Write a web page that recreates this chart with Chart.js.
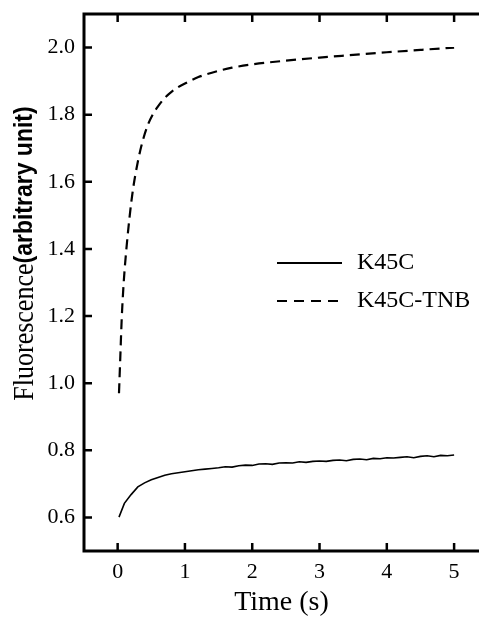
<!DOCTYPE html>
<html>
<head>
<meta charset="utf-8">
<script src="https://cdn.jsdelivr.net/npm/chart.js@4.4.1/dist/chart.umd.min.js"></script>
<style>
  html, body { margin: 0; padding: 0; background: #fff; }
  canvas { display: block; }
</style>
</head>
<body>
<canvas id="fluoChart" width="479" height="621"></canvas>
<script>
// Data
const xTicks = [0, 1, 2, 3, 4, 5];
const yTicks = [0.6, 0.8, 1.0, 1.2, 1.4, 1.6, 1.8, 2.0];

const timeK45C = [0.02, 0.1, 0.2, 0.3, 0.4, 0.5, 0.6, 0.7, 0.8, 0.9, 1.0,
    1.1, 1.2, 1.3, 1.4, 1.5, 1.6, 1.7, 1.8, 1.9, 2.0,
    2.1, 2.2, 2.3, 2.4, 2.5, 2.6, 2.7, 2.8, 2.9, 3.0,
    3.1, 3.2, 3.3, 3.4, 3.5, 3.6, 3.7, 3.8, 3.9, 4.0,
    4.1, 4.2, 4.3, 4.4, 4.5, 4.6, 4.7, 4.8, 4.9, 5.0];
const fluoK45C = [0.601, 0.642, 0.668, 0.691, 0.703, 0.712, 0.719, 0.726, 0.730, 0.733, 0.736,
    0.739, 0.742, 0.744, 0.746, 0.748, 0.751, 0.750, 0.754, 0.756, 0.755,
    0.759, 0.760, 0.758, 0.762, 0.763, 0.762, 0.766, 0.764, 0.767, 0.768,
    0.767, 0.770, 0.771, 0.769, 0.773, 0.774, 0.772, 0.776, 0.775, 0.778,
    0.777, 0.779, 0.781, 0.778, 0.782, 0.784, 0.781, 0.785, 0.784, 0.786];

const timeTNB = [0.02, 0.04, 0.06, 0.09, 0.13, 0.18, 0.23, 0.3, 0.37, 0.45, 0.52,
    0.6, 0.7, 0.8, 0.9, 1.0, 1.2, 1.4, 1.7, 2.0, 2.5, 3.0, 3.5, 4.0, 4.5, 5.0];
const fluoTNB = [0.97, 1.08, 1.19, 1.30, 1.40, 1.50, 1.58, 1.66, 1.72, 1.77, 1.80,
    1.825, 1.85, 1.868, 1.882, 1.893, 1.912, 1.925, 1.940, 1.950, 1.961, 1.970, 1.978, 1.986, 1.993, 2.0];

const seriesNames = ['K45C', 'K45C-TNB'];

const serif = '"Liberation Serif", "Times New Roman", serif';

function toPoints(xs, ys) {
    return xs.map((x, i) => ({ x: x, y: ys[i] }));
}

// Boxed axes with inward ticks, drawn from the chart's scales
const framePlugin = {
    id: 'frame',
    afterDatasetsDraw(chart) {
        const { ctx, chartArea: ca, scales } = chart;
        ctx.save();
        ctx.strokeStyle = '#000';
        ctx.lineWidth = 3;
        ctx.beginPath();
        ctx.moveTo(ca.right + 2, ca.top);
        ctx.lineTo(ca.left, ca.top);
        ctx.lineTo(ca.left, ca.bottom);
        ctx.lineTo(ca.right + 2, ca.bottom);
        ctx.stroke();

        ctx.lineWidth = 2.5;
        ctx.beginPath();
        xTicks.forEach(v => {
            const px = scales.x.getPixelForValue(v);
            ctx.moveTo(px, ca.bottom);
            ctx.lineTo(px, ca.bottom - 8);
            ctx.moveTo(px, ca.top);
            ctx.lineTo(px, ca.top + 8);
        });
        yTicks.forEach(v => {
            const py = scales.y.getPixelForValue(v);
            ctx.moveTo(ca.left, py);
            ctx.lineTo(ca.left + 8, py);
        });
        ctx.stroke();
        ctx.restore();
    }
};

// Y title: serif word plus a bold sans part
const yTitlePlugin = {
    id: 'yTitle',
    afterDraw(chart) {
        const { ctx, chartArea: ca } = chart;
        const partA = 'Fluorescence';
        const partB = '(arbitrary unit)';
        const fontA = '26px ' + serif;
        const fontB = 'bold 23px "Liberation Sans", Arial, sans-serif';
        ctx.save();
        ctx.font = fontA;
        const wA = ctx.measureText(partA).width;
        ctx.font = fontB;
        const wB = ctx.measureText(partB).width;
        const cy = (ca.top + ca.bottom) / 2 - 29;
        ctx.translate(25, cy);
        ctx.rotate(-Math.PI / 2);
        ctx.scale(1, 1.15);
        ctx.fillStyle = '#000';
        ctx.textBaseline = 'middle';
        ctx.textAlign = 'left';
        const start = -(wA + wB) / 2;
        ctx.font = fontA;
        ctx.fillText(partA, start, 0);
        ctx.font = fontB;
        ctx.fillText(partB, start + wA, 0);
        ctx.restore();
    }
};

// Legend inside the plot area
const legendPlugin = {
    id: 'innerLegend',
    afterDraw(chart) {
        const { ctx, chartArea: ca } = chart;
        ctx.save();
        ctx.font = '24px ' + serif;
        ctx.textBaseline = 'middle';
        ctx.fillStyle = '#000';
        chart.data.datasets.forEach((ds, i) => {
            const y = ca.top + 249 + i * 38;
            ctx.strokeStyle = '#000';
            ctx.lineWidth = 1.8;
            ctx.setLineDash(i === 0 ? [] : [10, 7]);
            ctx.beginPath();
            ctx.moveTo(ca.left + 193, y);
            ctx.lineTo(ca.left + 258, y);
            ctx.stroke();
            ctx.fillText(ds.label, ca.left + 273, y);
        });
        ctx.restore();
    }
};

new Chart(document.getElementById('fluoChart'), {
    type: 'scatter',
    data: {
        datasets: [{
            label: seriesNames[0],
            data: toPoints(timeK45C, fluoK45C),
            showLine: true,
            borderColor: '#000',
            borderWidth: 1.6,
            pointRadius: 0,
            tension: 0
        }, {
            label: seriesNames[1],
            data: toPoints(timeTNB, fluoTNB),
            showLine: true,
            borderColor: '#000',
            borderWidth: 2.2,
            borderDash: [10, 6],
            pointRadius: 0,
            cubicInterpolationMode: 'monotone'
        }]
    },
    options: {
        responsive: false,
        animation: false,
        devicePixelRatio: 1,
        layout: { padding: { top: 14, right: 0, left: 0, bottom: 0 } },
        plugins: {
            legend: { display: false },
            tooltip: { enabled: false }
        },
        scales: {
            x: {
                type: 'linear',
                min: -0.5,
                max: 5.37,
                afterBuildTicks: s => { s.ticks = xTicks.map(v => ({ value: v })); },
                afterFit: s => {
                    s.height = 70;
                    s.paddingLeft = 0;
                    s.paddingRight = 0;
                },
                grid: { display: false, drawTicks: false },
                border: { display: false },
                ticks: {
                    autoSkip: false,
                    maxRotation: 0,
                    padding: 8,
                    color: '#000',
                    font: { family: serif, size: 22 }
                },
                title: {
                    display: true,
                    text: 'Time (s)',
                    color: '#000',
                    font: { family: serif, size: 28 },
                    padding: { top: 0, bottom: 2 }
                }
            },
            y: {
                type: 'linear',
                min: 0.5,
                max: 2.1,
                afterBuildTicks: s => { s.ticks = yTicks.map(v => ({ value: v })); },
                afterFit: s => {
                    s.width = 84;
                    s.paddingTop = 0;
                    s.paddingBottom = 0;
                },
                grid: { display: false, drawTicks: false },
                border: { display: false },
                ticks: {
                    autoSkip: false,
                    padding: 9,
                    color: '#000',
                    font: { family: serif, size: 22 },
                    callback: v => v.toFixed(1)
                }
            }
        }
    },
    plugins: [framePlugin, yTitlePlugin, legendPlugin]
});
</script>
</body>
</html>
